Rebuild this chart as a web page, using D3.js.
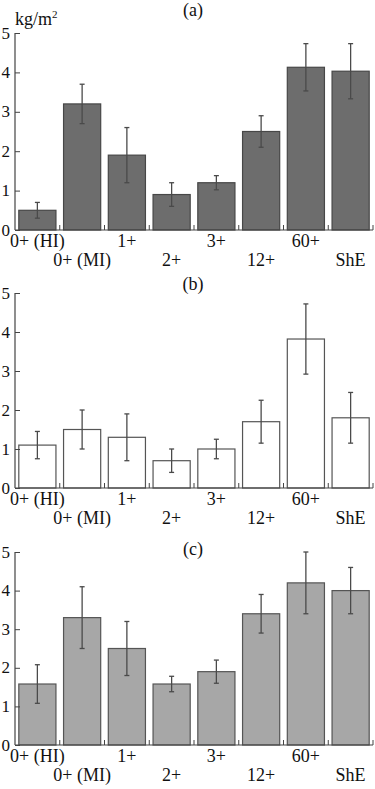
<!DOCTYPE html>
<html>
<head>
<meta charset="utf-8">
<script src="https://cdn.jsdelivr.net/npm/d3@7"></script>
<style>
  body { margin: 0; background: #fff; }
  svg { display: block; }
</style>
</head>
<body>
<div id="app"></div>
<script>
const d3 = window.d3;

// groups along x (two label rows, alternating)
const groups = ["0+ (HI)", "0+ (MI)", "1+", "2+", "3+", "12+", "60+", "ShE"];
const yTicks = [0, 1, 2, 3, 4, 5];

// panel (a)
const meanA = [0.5, 3.2, 1.9, 0.9, 1.2, 2.5, 4.13, 4.03];
const errA = [0.2, 0.5, 0.7, 0.3, 0.18, 0.4, 0.6, 0.7];
// panel (b)
const meanB = [1.1, 1.5, 1.3, 0.7, 1.0, 1.7, 3.82, 1.8];
const errB = [0.35, 0.5, 0.6, 0.3, 0.25, 0.55, 0.9, 0.65];
// panel (c)
const meanC = [1.58, 3.3, 2.5, 1.58, 1.9, 3.4, 4.2, 4.0];
const errC = [0.5, 0.8, 0.7, 0.2, 0.3, 0.5, 0.8, 0.6];

const panels = [
  { name: "(a)", mean: meanA, err: errA, fill: "#6d6d6d", stroke: "#474747", top: 33, bottom: 230, labelDy: -17, unit: true },
  { name: "(b)", mean: meanB, err: errB, fill: "#ffffff", stroke: "#555555", top: 293, bottom: 488, labelDy: -3, unit: false },
  { name: "(c)", mean: meanC, err: errC, fill: "#a7a7a7", stroke: "#555555", top: 552, bottom: 745, labelDy: 3, unit: false },
];

const width = 375, height = 789;
const left = 15, right = 373;
const font = "'Liberation Serif', serif";

const svg = d3.select("#app").append("svg")
  .attr("width", width)
  .attr("height", height);

const x = d3.scaleBand()
  .domain(groups)
  .range([left, right])
  .paddingInner(0.17)
  .paddingOuter(0.085);

const label = (sel, size = "18px") =>
  sel.attr("fill", "#111")
    .style("font-family", font)
    .style("font-size", size);

panels.forEach((p) => {
  const y = d3.scaleLinear().domain([0, 5]).range([p.bottom, p.top]);
  const g = svg.append("g");
  const rows = groups.map((name, i) => ({ name, v: p.mean[i], e: p.err[i], i }));

  // bars
  g.selectAll("rect.bar")
    .data(rows)
    .enter()
    .append("rect")
    .attr("class", "bar")
    .attr("x", (d) => x(d.name))
    .attr("y", (d) => y(d.v))
    .attr("width", x.bandwidth())
    .attr("height", (d) => y(0) - y(d.v))
    .attr("fill", p.fill)
    .attr("stroke", p.stroke)
    .attr("stroke-width", 1.2);

  // error bars
  const eb = g.selectAll("g.err")
    .data(rows)
    .enter()
    .append("g")
    .attr("class", "err")
    .attr("transform", (d) => `translate(${x(d.name) + x.bandwidth() / 2},0)`);
  eb.append("line")
    .attr("y1", (d) => y(d.v + d.e))
    .attr("y2", (d) => y(d.v - d.e))
    .attr("stroke", "#4a4a4a")
    .attr("stroke-width", 1.3);
  eb.selectAll("line.cap")
    .data((d) => [d.v + d.e, d.v - d.e])
    .enter()
    .append("line")
    .attr("class", "cap")
    .attr("x1", -2.5)
    .attr("x2", 2.5)
    .attr("y1", (v) => y(v))
    .attr("y2", (v) => y(v))
    .attr("stroke", "#4a4a4a")
    .attr("stroke-width", 1.3);

  // y axis (ticks inside)
  const yAxis = g.append("g")
    .attr("transform", `translate(${left},0)`)
    .call(d3.axisRight(y).tickValues(yTicks).tickSize(5).tickFormat(""));
  yAxis.select(".domain").attr("stroke", "#444").attr("stroke-width", 1.2).attr("d", `M0,${y(0)}V${y(5)}`);
  yAxis.selectAll(".tick line").attr("stroke", "#444");

  g.selectAll("text.ytick")
    .data(yTicks)
    .enter()
    .append("text")
    .attr("class", "ytick")
    .attr("x", left - 5)
    .attr("y", (d) => y(d) + 5.5)
    .attr("text-anchor", "end")
    .call(label, "17px")
    .text((d) => d);

  // x baseline with small ticks between groups
  g.append("line")
    .attr("x1", left)
    .attr("x2", right)
    .attr("y1", y(0))
    .attr("y2", y(0))
    .attr("stroke", "#444")
    .attr("stroke-width", 1.2);
  g.selectAll("line.xtick")
    .data(d3.range(1, groups.length + 1))
    .enter()
    .append("line")
    .attr("class", "xtick")
    .attr("x1", (i) => left + i * x.step())
    .attr("x2", (i) => left + i * x.step())
    .attr("y1", y(0))
    .attr("y2", y(0) - 5)
    .attr("stroke", "#444");

  // group labels, alternating rows
  g.selectAll("text.xlab")
    .data(rows)
    .enter()
    .append("text")
    .attr("class", "xlab")
    .attr("x", (d) => x(d.name) + x.bandwidth() / 2)
    .attr("y", (d) => y(0) + (d.i % 2 === 0 ? 17 : 36))
    .attr("text-anchor", "middle")
    .call(label)
    .text((d) => d.name);

  // panel letter
  g.append("text")
    .attr("x", 193)
    .attr("y", p.top + p.labelDy)
    .attr("text-anchor", "middle")
    .call(label)
    .text(p.name);

  if (p.unit) {
    const u = g.append("text")
      .attr("x", left)
      .attr("y", p.top - 8)
      .call(label);
    u.append("tspan").text("kg/m");
    u.append("tspan").attr("dy", -7).style("font-size", "11px").text("2");
  }
});
</script>
</body>
</html>
